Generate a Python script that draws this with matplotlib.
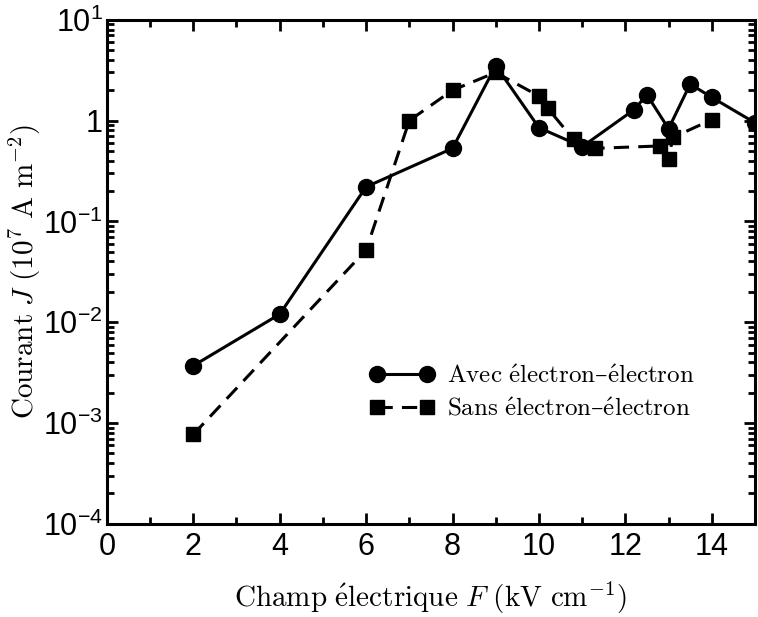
import matplotlib
matplotlib.use('Agg')
import matplotlib.pyplot as plt
from matplotlib.ticker import FixedLocator, LogLocator, NullFormatter, FixedFormatter

# Données
champ_avec = [2, 4, 6, 8, 9, 10, 11, 12.2, 12.5, 13, 13.5, 14, 15]
courant_avec = [3.7e-3, 1.2e-2, 0.22, 0.53, 3.5, 0.85, 0.55, 1.28, 1.8, 0.83, 2.3, 1.7, 0.95]

champ_sans = [2, 6, 7, 8, 9, 10, 10.2, 10.8, 11.3, 12.8, 13, 13.1, 14]
courant_sans = [7.7e-4, 0.052, 1.0, 2.0, 3.0, 1.75, 1.33, 0.65, 0.53, 0.56, 0.42, 0.68, 1.02]

yticks = [1e-4, 1e-3, 1e-2, 1e-1, 1, 10]
ylabels = [r'$\mathregular{10^{-4}}$', r'$\mathregular{10^{-3}}$', r'$\mathregular{10^{-2}}$',
           r'$\mathregular{10^{-1}}$', '1', r'$\mathregular{10^{1}}$']

plt.rcParams['font.family'] = ['Liberation Sans', 'DejaVu Sans']

fig = plt.figure(figsize=(7.58, 6.17), dpi=100)
ax = fig.add_axes([0.141, 0.151, 0.855, 0.817])

ax.plot(champ_avec, courant_avec, color='k', lw=2.2, marker='o', ms=11.5,
        label=r'$\mathrm{Avec\ \'electron}$–$\mathrm{\'electron}$')
ax.plot(champ_sans, courant_sans, color='k', lw=2.2, ls=(0, (5, 3)), marker='s', ms=10,
        label=r'$\mathrm{Sans\ \'electron}$–$\mathrm{\'electron}$')

ax.set_yscale('log')
ax.set_xlim(0, 15)
ax.set_ylim(1e-4, 10)

ax.set_xticks(range(0, 15, 2))
ax.xaxis.set_minor_locator(FixedLocator(range(1, 16, 2)))
ax.yaxis.set_major_locator(FixedLocator(yticks))
ax.yaxis.set_major_formatter(FixedFormatter(ylabels))
ax.yaxis.set_minor_locator(LogLocator(base=10, subs=range(2, 10), numticks=20))
ax.yaxis.set_minor_formatter(NullFormatter())

ax.tick_params(which='both', direction='in', top=True, right=True, width=2, labelsize=22)
ax.tick_params(which='major', length=8)
ax.tick_params(which='minor', length=5)
ax.tick_params(axis='x', pad=6)
ax.tick_params(axis='y', pad=3)
for s in ax.spines.values():
    s.set_linewidth(2.2)

ax.set_xlabel(r'$\mathrm{Champ\ \'electrique}\ F\ (\mathrm{kV\ cm}^{-1})$',
              fontsize=21, math_fontfamily='cm')
ax.set_ylabel(r'$\mathrm{Courant}\ J\ (10^{7}\ \mathrm{A\ m}^{-2})$',
              fontsize=21, math_fontfamily='cm')
ax.xaxis.set_label_coords(0.5, -0.112)
ax.yaxis.set_label_coords(-0.098, 0.5)

leg = ax.legend(loc='upper left', bbox_to_anchor=(0.405, 0.316), frameon=False,
                numpoints=2, handlelength=2.6, handletextpad=0.5, labelspacing=0.4,
                borderpad=0, borderaxespad=0,
                prop={'size': 18, 'family': ['DejaVu Serif'], 'math_fontfamily': 'cm'})

fig.savefig('out.png', dpi=100)
